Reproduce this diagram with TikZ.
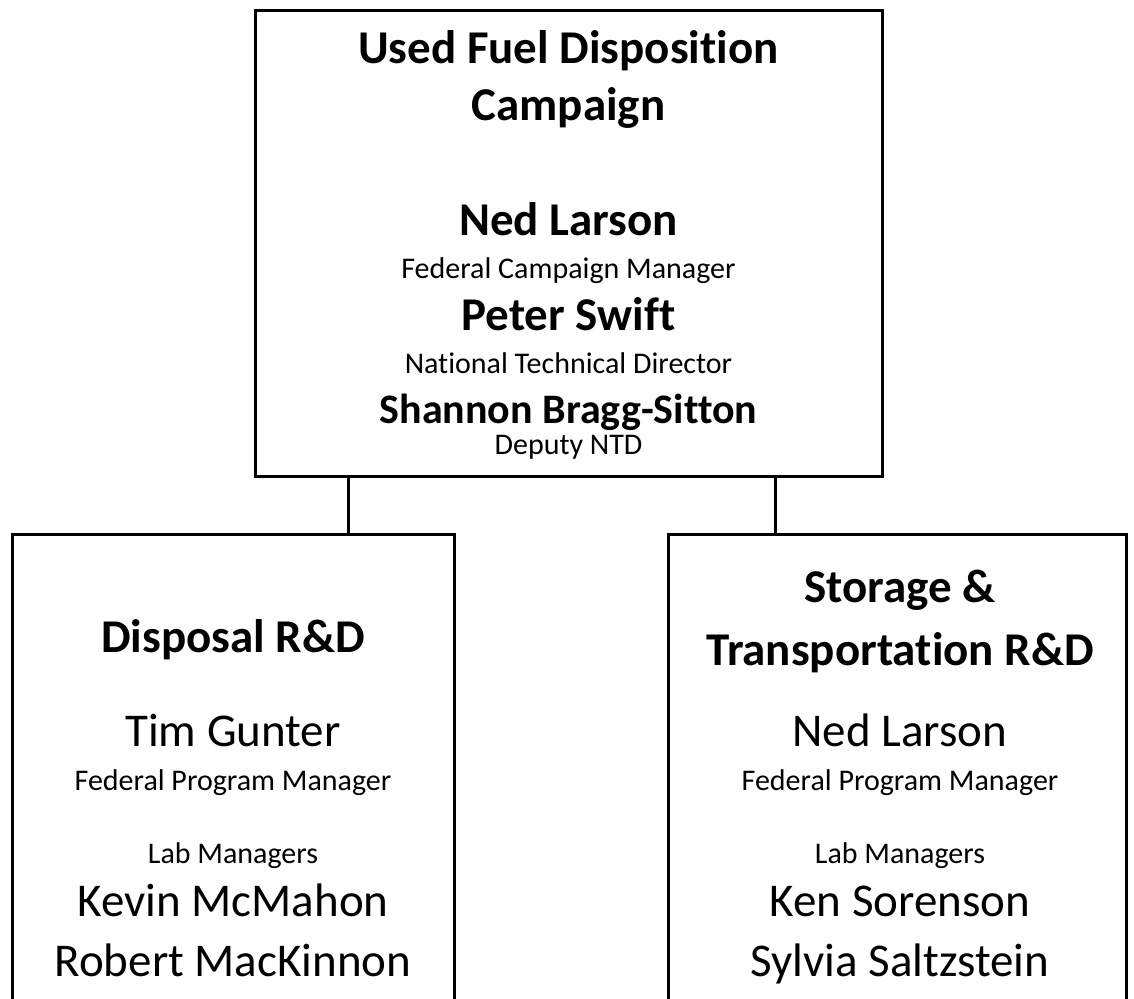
\documentclass[tikz,border=0pt]{standalone}
\usepackage{fontspec}
\setmainfont{Carlito}[Ligatures=NoCommon]
\usetikzlibrary{positioning}

\tikzset{
    unitbox/.style={draw, line width=1.5pt, inner sep=0pt},
    hdr/.style={font=\bfseries\fontsize{23.5}{28}\selectfont, anchor=base, inner sep=0pt},
    boss/.style={font=\bfseries\fontsize{23.5}{28}\selectfont, anchor=base, inner sep=0pt},
    role/.style={font=\fontsize{15}{18}\selectfont, anchor=base, inner sep=0pt},
    person/.style={font=\fontsize{23.5}{28}\selectfont, anchor=base, inner sep=0pt}
}

\begin{document}
\begin{tikzpicture}[x=0.5pt, y=-0.5pt]
    \useasboundingbox (0, 0) rectangle (1134, 998);
    \clip (0, 0) rectangle (1134, 998);

    % boxes
    \node[unitbox, minimum width=313.5pt, minimum height=233pt] (ufd) at (568.5, 243) {};
    \node[unitbox, minimum width=221pt, minimum height=243pt] (disp) at (233, 777) {};
    \node[unitbox, minimum width=229pt, minimum height=243pt] (stor) at (897, 777) {};

    % links
    \path (ufd.south west) ++(95, 0) coordinate (j1);
    \path (ufd.south east) ++(-108, 0) coordinate (j2);
    \draw[line width=1.5pt] (j1) -- (j1 |- disp.north);
    \draw[line width=1.5pt] (j2) -- (j2 |- stor.north);

    % campaign
    \node[hdr] (t1) at (568.5, 63) {Used Fuel Disposition};
    \node[hdr] (t2) at (568.5, 120) {Campaign};
    \node[boss] (n1) at (568.5, 235) {Ned Larson};
    \node[role] (r1) at (568.5, 278) {Federal Campaign Manager};
    \node[boss] (n2) at (568.5, 330) {Peter Swift};
    \node[role] (r2) at (568.5, 373) {National Technical Director};
    \node[boss, font=\bfseries\fontsize{21}{25}\selectfont] (n3) at (568.5, 423) {Shannon Bragg-Sitton};
    \node[role] (r3) at (568.5, 454) {Deputy NTD};

    % disposal
    \node[hdr] (d1) at (233, 652) {Disposal R\&D};
    \node[person] (d2) at (233, 746) {Tim Gunter};
    \node[role] (d3) at (233, 790) {Federal Program Manager};
    \node[role] (d4) at (233, 863) {Lab Managers};
    \node[person] (d5) at (233, 916) {Kevin McMahon};
    \node[person] (d6) at (233, 976) {Robert MacKinnon};

    % storage
    \node[hdr] (s1) at (900, 602) {Storage \&};
    \node[hdr] (s2) at (900, 665) {Transportation R\&D};
    \node[person] (s3) at (900, 746) {Ned Larson};
    \node[role] (s4) at (900, 790) {Federal Program Manager};
    \node[role] (s5) at (900, 863) {Lab Managers};
    \node[person] (s6) at (900, 916) {Ken Sorenson};
    \node[person] (s7) at (900, 976) {Sylvia Saltzstein};
\end{tikzpicture}
\end{document}
